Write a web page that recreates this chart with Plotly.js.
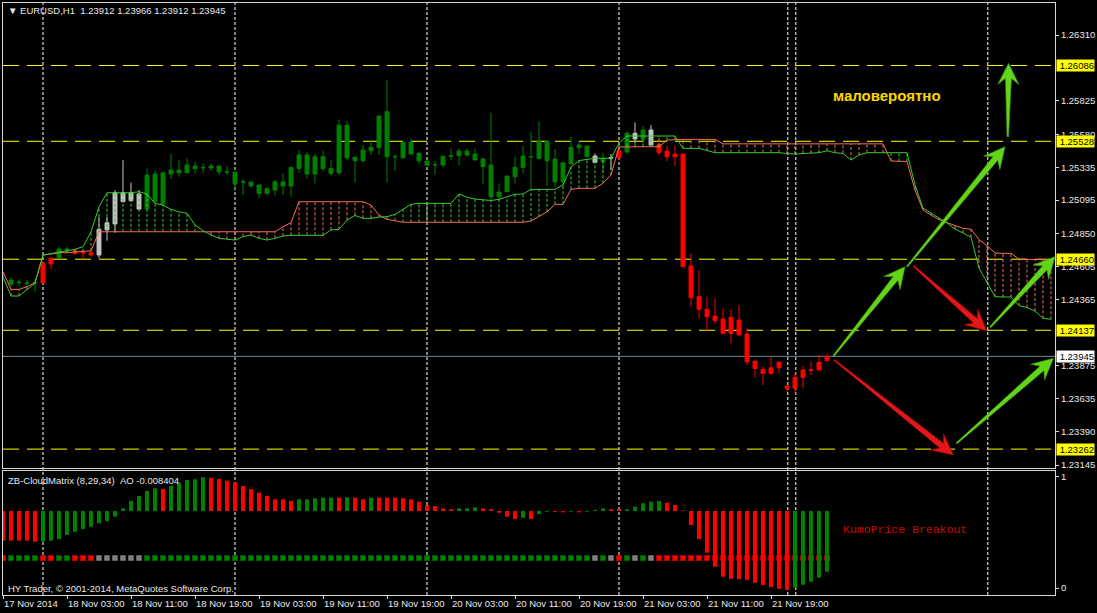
<!DOCTYPE html>
<html><head><meta charset="utf-8">
<script src="https://cdn.plot.ly/plotly-3.0.1.min.js"></script>
<style>html,body{margin:0;padding:0;background:#000;overflow:hidden}#chart{width:1097px;height:613px}</style>
</head><body><div id="chart"></div>
<script>
// ---------------- DATA ----------------
const SYMBOL = 'EURUSD,H1';
// candles: bar 0 = 17 Nov 20:00, one bar per hour
const candleOpen = [1.24477,1.24487,1.24483,1.24485,1.24487,1.24625,1.24671,1.24723,1.24723,1.24706,1.24708,1.24691,1.24875,1.24919,1.25149,1.25091,1.25140,1.25029,1.25287,1.25066,1.25287,1.25296,1.25296,1.25326,1.25332,1.25331,1.25346,1.25302,1.25301,1.25227,1.25228,1.25206,1.25145,1.25169,1.25228,1.25199,1.25328,1.25427,1.25287,1.25414,1.25328,1.25296,1.25647,1.25412,1.25385,1.25459,1.25481,1.25746,1.25413,1.25406,1.25520,1.25439,1.25383,1.25354,1.25353,1.25418,1.25422,1.25456,1.25434,1.25397,1.25353,1.25120,1.25157,1.25267,1.25336,1.25413,1.25402,1.25530,1.25397,1.25230,1.25361,1.25481,1.25493,1.25419,1.25378,1.25405,1.25406,1.25449,1.25587,1.25545,1.25611,1.25505,1.25456,1.25434,1.25434,1.24610,1.24384,1.24291,1.24241,1.24219,1.24114,1.24212,1.24109,1.23910,1.23849,1.23820,1.23861,1.23727,1.23710,1.23790,1.23843,1.23844,1.23912];
const candleHigh = [1.24527,1.24512,1.24507,1.24512,1.24634,1.24672,1.24752,1.24752,1.24735,1.24728,1.24728,1.24972,1.24972,1.25169,1.25390,1.25223,1.25169,1.25328,1.25311,1.25298,1.25434,1.25390,1.25402,1.25378,1.25365,1.25365,1.25346,1.25346,1.25301,1.25250,1.25228,1.25206,1.25189,1.25243,1.25292,1.25336,1.25464,1.25451,1.25434,1.25459,1.25390,1.25689,1.25677,1.25412,1.25500,1.25542,1.25714,1.25979,1.25432,1.25520,1.25550,1.25449,1.25383,1.25383,1.25419,1.25476,1.25476,1.25476,1.25476,1.25410,1.25738,1.25218,1.25272,1.25414,1.25493,1.25600,1.25672,1.25530,1.25471,1.25370,1.25562,1.25525,1.25493,1.25439,1.25444,1.25434,1.25484,1.25600,1.25667,1.25640,1.25647,1.25556,1.25497,1.25500,1.25434,1.24704,1.24580,1.24384,1.24372,1.24298,1.24291,1.24323,1.24151,1.23910,1.23874,1.23939,1.23910,1.23734,1.23832,1.23874,1.23905,1.23957,1.23966];
const candleLow = [1.24458,1.24463,1.24458,1.24420,1.24483,1.24588,1.24668,1.24704,1.24691,1.24662,1.24678,1.24667,1.24796,1.24855,1.25080,1.25083,1.25026,1.25026,1.25080,1.25064,1.25250,1.25267,1.25292,1.25292,1.25292,1.25311,1.25279,1.25279,1.25164,1.25132,1.25189,1.25108,1.25132,1.25127,1.25132,1.25120,1.25296,1.25255,1.25218,1.25304,1.25276,1.25279,1.25390,1.25223,1.25370,1.25427,1.25427,1.25223,1.25311,1.25397,1.25434,1.25361,1.25351,1.25279,1.25336,1.25390,1.25353,1.25414,1.25390,1.25213,1.25096,1.25096,1.25157,1.25218,1.25292,1.25169,1.25395,1.25201,1.25193,1.25193,1.25361,1.25434,1.25410,1.25366,1.25304,1.25316,1.25390,1.25439,1.25513,1.25513,1.25500,1.25427,1.25383,1.25346,1.24600,1.24311,1.24225,1.24134,1.24188,1.24107,1.24041,1.24100,1.23881,1.23788,1.23734,1.23808,1.23820,1.23682,1.23673,1.23710,1.23808,1.23844,1.23912];
const candleClose = [1.24507,1.24490,1.24485,1.24488,1.24630,1.24667,1.24735,1.24735,1.24704,1.24708,1.24691,1.24880,1.24928,1.25149,1.25083,1.25149,1.25029,1.25279,1.25083,1.25296,1.25316,1.25316,1.25353,1.25346,1.25334,1.25346,1.25304,1.25300,1.25218,1.25229,1.25199,1.25145,1.25179,1.25230,1.25199,1.25336,1.25427,1.25287,1.25414,1.25328,1.25292,1.25647,1.25406,1.25385,1.25464,1.25484,1.25714,1.25414,1.25415,1.25520,1.25434,1.25385,1.25351,1.25356,1.25419,1.25420,1.25456,1.25427,1.25390,1.25341,1.25120,1.25154,1.25272,1.25336,1.25419,1.25416,1.25530,1.25385,1.25230,1.25370,1.25484,1.25500,1.25414,1.25373,1.25402,1.25407,1.25456,1.25587,1.25545,1.25611,1.25500,1.25445,1.25414,1.25414,1.24605,1.24377,1.24291,1.24236,1.24207,1.24114,1.24232,1.24102,1.23905,1.23856,1.23820,1.23861,1.23901,1.23710,1.23790,1.23844,1.23846,1.23901,1.23945];

// ZB-CloudMatrix state per bar, from bar -1 (g = bull, r = bear, n = neutral)
const SIGNAL_FIRST_BAR = -1;
const signalState = ('r gggg rr gg rrr nnnnnn gggggggg gggggggg gggggggg gggggggg gggggggg gggggggg gggggggg ngnrgngn rrrrrrrrrr rrrrrrrrrr rr').replace(/ /g,'').split('');
// AO histogram, from bar -1
const aoValues = [-0.00411,-0.00411,-0.00411,-0.00411,-0.00425,
 -0.00425,-0.00411,-0.00388,-0.00332,-0.00287,-0.00249,-0.00217,-0.00170,-0.00139,-0.00079,
 0.00037,0.00139,0.00208,0.00277,0.00314,0.00305,0.00346,0.00392,0.00429,0.00439,
 0.00467,0.00461,0.00443,0.00420,0.00397,0.00346,0.00301,0.00253,0.00208,0.00162,
 0.00162,0.00139,0.00162,0.00162,0.00176,0.00184,0.00184,0.00184,0.00190,0.00184,
 0.00162,0.00184,0.00184,0.00184,0.00184,0.00176,0.00162,0.00129,0.00083,0.00069,
 0.00037,0.00024,0.00037,0.00037,0.00051,0.00037,0.00024,-0.00024,-0.00079,-0.00111,
 -0.00093,-0.00111,-0.00042,-0.00010,-0.00014,-0.00018,-0.00010,-0.00018,-0.00010,0.00014,
 0.00037,0.00024,0.00024,0.00024,0.00060,0.00107,0.00129,0.00139,0.00115,0.00083,
 0.00007,-0.00194,-0.00388,-0.00578,-0.00771,-0.00910,-0.00938,-0.00942,-0.00956,-0.00993,
 -0.01025,-0.01053,-0.01076,-0.01090,-0.01062,-0.01021,-0.00979,-0.00924,-0.008404];
const aoState = ('rrrrr ggggggggggggggg r ggggg rrrrrrrrrrr ggggg r g rr g rrrrrrrrrr ggg rrrrr g r gg rr g r ggg rr ggggg rrrrrrrrrrrrrrrr ggggg').replace(/ /g,'').split('');

// Ichimoku cloud spans, from bar -1 to bar 130
const CLOUD_FIRST_BAR = -1;
const cloudRed = [1.24568,1.24438,1.24438,1.24458,1.24487,1.24691,1.24698,1.24708,1.24708,1.24711,1.24715,1.24722,
 1.24862,1.24862,1.24862,1.24862,1.24862,1.24862,1.24862,1.24862,1.24862,1.24862,1.24862,1.24862,1.24862,1.24862,1.24862,1.24862,1.24862,1.24862,1.24862,1.24862,1.24862,1.24862,1.24862,
 1.24899,1.24929,
 1.25083,1.25083,1.25083,1.25083,1.25083,1.25083,1.25083,1.25083,1.25083,
 1.25059,1.24985,1.24954,1.24943,
 1.24932,1.24932,1.24932,1.24932,1.24932,1.24932,1.24932,1.24932,1.24932,1.24932,1.24932,1.24932,1.24932,1.24932,1.24932,1.24932,
 1.24941,1.24973,1.25009,1.25064,1.25064,
 1.25174,1.25182,1.25182,1.25182,1.25219,1.25280,
 1.25486,
 1.25488,1.25488,1.25488,1.25488,1.25488,
 1.25537,
 1.25542,1.25542,1.25542,1.25542,1.25542,1.25542,
 1.25509,1.25509,1.25509,1.25509,1.25509,1.25509,1.25509,1.25509,1.25509,1.25509,1.25509,1.25509,1.25509,1.25509,1.25509,1.25509,1.25509,1.25509,1.25509,1.25509,1.25509,
 1.25383,1.25379,1.25379,1.25169,1.25022,1.24985,1.24951,1.24929,1.24910,1.24887,1.24881,1.24805,1.24759,1.24706,1.24703,1.24703,1.24661,1.24658,1.24656,1.24654,1.24654];
const cloudGreen = [1.24531,1.24389,1.24389,1.24433,1.24483,1.24691,1.24703,1.24715,1.24722,1.24733,1.24752,1.24862,
 1.25046,1.25149,1.25149,1.25149,1.25149,1.25157,
 1.25140,1.25071,1.25059,1.25027,1.25009,1.24998,
 1.24912,1.24870,1.24838,1.24814,1.24806,1.24801,
 1.24826,1.24838,1.24814,1.24801,1.24814,1.24831,
 1.24836,1.24836,1.24836,1.24836,1.24836,
 1.24875,1.24880,1.24948,1.24982,1.24961,1.24961,1.24970,1.24973,1.24990,1.25029,1.25064,
 1.25071,1.25071,1.25071,1.25071,1.25071,
 1.25140,1.25116,1.25103,1.25096,1.25092,1.25101,1.25121,1.25138,1.25140,
 1.25174,1.25174,1.25174,1.25174,1.25206,
 1.25338,1.25386,1.25397,1.25403,1.25403,1.25403,
 1.25515,
 1.25567,1.25567,1.25567,1.25567,1.25567,1.25567,1.25567,
 1.25476,1.25476,1.25476,1.25460,
 1.25444,1.25444,1.25444,1.25444,1.25444,1.25444,1.25444,1.25444,1.25444,
 1.25438,1.25434,1.25438,1.25442,1.25444,1.25458,1.25444,1.25439,1.25390,1.25427,1.25444,1.25444,1.25444,1.25439,1.25442,1.25444,
 1.25206,1.25037,1.25000,1.24963,1.24926,1.24882,1.24853,1.24823,1.24595,1.24485,1.24384,1.24382,1.24382,1.24318,1.24304,1.24279,1.24225,1.24218];

// horizontal levels, bid, vertical markers
const levels = [1.26086, 1.25528, 1.24660, 1.24137, 1.23262];
const bidPrice = 1.23945;
const verticalBars = [4, 28, 52, 76, 97.1, 98.1, 122.1];

// price axis ticks and time axis ticks
const priceTicks = [1.26310,1.25825,1.25580,1.25335,1.25095,1.24850,1.24605,1.24365,1.23875,1.23635,1.23390,1.23145];
const timeTickBars = [-1,7,15,23,31,39,47,55,63,71,79,87,95];
const timeTickLabels = ['17 Nov 2014','18 Nov 03:00','18 Nov 11:00','18 Nov 19:00','19 Nov 03:00','19 Nov 11:00','19 Nov 19:00','20 Nov 03:00','20 Nov 11:00','20 Nov 19:00','21 Nov 03:00','21 Nov 11:00','21 Nov 19:00'];

// drawn arrows (bar, price)
const arrowTailBar   = [102.8, 112.0, 124.6, 112.8, 122.4, 102.9, 118.2];
const arrowTailPrice = [1.23947,1.24605,1.25562,1.24610,1.24159,1.23918,1.23305];
const arrowHeadBar   = [111.75,124.25,124.7, 121.96,130.5, 117.8, 130.3];
const arrowHeadPrice = [1.24605,1.25488,1.26102,1.24134,1.24678,1.23219,1.23930];
const arrowKind      = ['up','up','up','down','up','down','up'];

// ---------------- LAYOUT CONSTANTS ----------------
const W = 1097, H = 613;
const PL = 3, PR = 1055, PT = 3, PB = 468, LT = 471, LB = 595;
const X_RANGE = [-1, 130.5];
const Y_RANGE = [1.23123, 1.26546];
const IND_RANGE = [-0.063, 1.054];
const AO_RANGE = [-0.01163, 0.005538];
const SIGNAL_ROW = 0.27;
const FRAME = '#D8D8D8';
const TXT = '#E8E8E8';
const FONT = 'Liberation Sans, Arial, sans-serif';
const C_GREEN = '#008000', C_RED = '#FF0000', C_GRAY_C = '#C4C4C4', C_GRAY_S = '#808080';
const LINE_RED = '#F76D57', LINE_GREEN = '#32CD32';

const candleBars = candleOpen.map((_, k) => k);
const signalBars = signalState.map((_, k) => k + SIGNAL_FIRST_BAR);
const cloudBars = cloudRed.map((_, k) => k + CLOUD_FIRST_BAR);

const traces = [];
// cloud hatch
const hatch = {r:{x:[],y:[]}, g:{x:[],y:[]}};
cloudBars.forEach((b, k) => {
  const r = cloudRed[k], g = cloudGreen[k];
  const h = r > g ? hatch.r : hatch.g;
  h.x.push(b, b, null); h.y.push(Math.min(r, g), Math.max(r, g), null);
});
[['r', LINE_RED], ['g', LINE_GREEN]].forEach(([k, c]) => {
  traces.push({type:'scatter', mode:'lines', x:hatch[k].x, y:hatch[k].y, xaxis:'x', yaxis:'y',
    line:{color:c, width:1, dash:'3px,2px'}, hoverinfo:'skip', connectgaps:false});
});
traces.push({type:'scatter', mode:'lines', x:cloudBars, y:cloudRed, line:{color:LINE_RED, width:1}, hoverinfo:'skip'});
traces.push({type:'scatter', mode:'lines', x:cloudBars, y:cloudGreen, line:{color:LINE_GREEN, width:1}, hoverinfo:'skip'});

// candles coloured by signal state
const candleColor = {g:C_GREEN, r:C_RED, n:C_GRAY_C};
['g','r','n'].forEach(s => {
  const idx = candleBars.filter(k => signalState[k - SIGNAL_FIRST_BAR] === s);
  const c = candleColor[s];
  traces.push({type:'candlestick', x:idx, open:idx.map(k=>candleOpen[k]), high:idx.map(k=>candleHigh[k]),
    low:idx.map(k=>candleLow[k]), close:idx.map(k=>candleClose[k]), xaxis:'x', yaxis:'y',
    increasing:{line:{color:c, width:1}, fillcolor:c}, decreasing:{line:{color:c, width:1}, fillcolor:c},
    whiskerwidth:0, hoverinfo:'skip', showlegend:false});
});

// indicator panel
traces.push({type:'bar', x:signalBars, y:aoValues, xaxis:'x2', yaxis:'y3', width:0.5,
  marker:{color:aoState.map(s => s === 'g' ? C_GREEN : C_RED), line:{width:0}}, hoverinfo:'skip'});
const squareColor = {g:C_GREEN, r:C_RED, n:C_GRAY_S};
traces.push({type:'scatter', mode:'markers', x:signalBars, y:signalBars.map(() => SIGNAL_ROW), xaxis:'x2', yaxis:'y2',
  marker:{symbol:'square', size:5.5, color:signalState.map(s => squareColor[s]), line:{width:0}}, hoverinfo:'skip'});

// ---------------- SHAPES ----------------
const shapes = [];
verticalBars.forEach(b => shapes.push({type:'line', xref:'x', yref:'paper', x0:b, x1:b, y0:1-LB/H, y1:1-PT/H,
  line:{color:'#FFFFFF', width:1, dash:'3px,2px'}, layer:'below'}));
levels.forEach(p => shapes.push({type:'line', xref:'paper', yref:'y', x0:PL/W, x1:PR/W, y0:p, y1:p,
  line:{color:'#FFFF00', width:1, dash:'16px,8px'}, layer:'below'}));
shapes.push({type:'line', xref:'paper', yref:'y', x0:PL/W, x1:PR/W, y0:bidPrice, y1:bidPrice,
  line:{color:'#778899', width:1}, layer:'below'});

const xpx = b => PL + (b - X_RANGE[0]) / (X_RANGE[1] - X_RANGE[0]) * (PR - PL);
const ypx = p => PT + (Y_RANGE[1] - p) / (Y_RANGE[1] - Y_RANGE[0]) * (PB - PT);
function arrowPath(t, h) {
  const headLen = 21, headHalf = 10.5, neckHalf = 3, tailHalf = 0.7;
  const dx = h[0]-t[0], dy = h[1]-t[1], L = Math.hypot(dx, dy);
  const ux = dx/L, uy = dy/L, nx = -uy, ny = ux;
  const pts = [
    [t[0]+nx*tailHalf, t[1]+ny*tailHalf],
    [h[0]-ux*headLen*0.72+nx*neckHalf, h[1]-uy*headLen*0.72+ny*neckHalf],
    [h[0]-ux*headLen+nx*headHalf, h[1]-uy*headLen+ny*headHalf],
    [h[0], h[1]],
    [h[0]-ux*headLen-nx*headHalf, h[1]-uy*headLen-ny*headHalf],
    [h[0]-ux*headLen*0.72-nx*neckHalf, h[1]-uy*headLen*0.72-ny*neckHalf],
    [t[0]-nx*tailHalf, t[1]-ny*tailHalf]
  ];
  return 'M' + pts.map(p => (p[0]/W).toFixed(6) + ',' + (1 - p[1]/H).toFixed(6)).join('L') + 'Z';
}
arrowKind.forEach((k, j) => {
  const t = [xpx(arrowTailBar[j]), ypx(arrowTailPrice[j])];
  const h = [xpx(arrowHeadBar[j]), ypx(arrowHeadPrice[j])];
  const up = k === 'up';
  shapes.push({type:'path', xref:'paper', yref:'paper', path:arrowPath(t, h), layer:'above',
    fillcolor: up ? '#62D41A' : '#E01818', line:{color: up ? '#3E9E10' : '#A80000', width:0.6}});
});

// ---------------- ANNOTATIONS ----------------
const fmt = v => v.toFixed(5);
const last = candleOpen.length - 1;
const annotations = [];
annotations.push({xref:'paper', yref:'paper', x:6/W, y:1-11/H, xanchor:'left', yanchor:'middle', showarrow:false,
  text:'\u25BC ' + SYMBOL + '\u00a0\u00a0' + [candleOpen[last], candleHigh[last], candleLow[last], candleClose[last]].map(fmt).join(' '),
  font:{family:FONT, size:9.5, color:TXT}});
annotations.push({xref:'paper', yref:'paper', x:6/W, y:1-480/H, xanchor:'left', yanchor:'middle', showarrow:false,
  text:'ZB-CloudMatrix (8,29,34)\u00a0\u00a0AO ' + aoValues[aoValues.length-1].toFixed(6),
  font:{family:FONT, size:9.5, color:TXT}});
annotations.push({xref:'paper', yref:'paper', x:6/W, y:1-588/H, xanchor:'left', yanchor:'middle', showarrow:false,
  text:'HY Trader, \u00a9 2001-2014, MetaQuotes Software Corp.', font:{family:FONT, size:9.5, color:TXT}});
annotations.push({xref:'paper', yref:'paper', x:831/W, y:1-96/H, xanchor:'left', yanchor:'middle', showarrow:false,
  text:'<b>маловероятно</b>', font:{family:FONT, size:15, color:'#FFD700'}});
annotations.push({xref:'paper', yref:'paper', x:841/W, y:1-529/H, xanchor:'left', yanchor:'middle', showarrow:false,
  text:'KumoPrice Breakout', font:{family:'Liberation Mono, Courier New, monospace', size:11.5, color:'#D40000'}});
levels.concat([bidPrice]).forEach((p, j) => annotations.push({xref:'paper', yref:'y', x:1056/W, y:p, xanchor:'left', yanchor:'middle',
  showarrow:false, text:fmt(p), bgcolor: j < levels.length ? '#FFFF00' : '#FFFFFF', width:37, height:11, align:'right', borderpad:0,
  font:{family:FONT, size:9.5, color:'#000000'}}));

const axBase = {showgrid:false, zeroline:false, showline:true, mirror:true, linecolor:FRAME, linewidth:1, tickcolor:FRAME};
const layout = {
  width:W, height:H, margin:{l:0, r:0, t:0, b:0}, autosize:false,
  paper_bgcolor:'#000000', plot_bgcolor:'rgba(0,0,0,0)', showlegend:false,
  font:{family:FONT, size:9.5, color:TXT},
  xaxis:Object.assign({}, axBase, {domain:[PL/W, PR/W], range:X_RANGE, anchor:'y', showticklabels:false, ticks:'',
    rangeslider:{visible:false}}),
  yaxis:Object.assign({}, axBase, {domain:[1-PB/H, 1-PT/H], range:Y_RANGE, anchor:'x', side:'right', ticks:'outside', ticklen:3,
    tickvals:priceTicks, ticktext:priceTicks.map(fmt), tickfont:{family:FONT, size:9.5, color:TXT}}),
  xaxis2:Object.assign({}, axBase, {domain:[PL/W, PR/W], range:X_RANGE, anchor:'y2', ticks:'outside', ticklen:3, tickangle:0,
    tickvals:timeTickBars, ticktext:timeTickLabels, ticklabelposition:'outside right', tickfont:{family:FONT, size:9.5, color:TXT},
    rangeslider:{visible:false}}),
  yaxis2:Object.assign({}, axBase, {domain:[1-LB/H, 1-LT/H], range:IND_RANGE, anchor:'x2', side:'right', ticks:'outside', ticklen:3,
    tickvals:[0, 1], ticktext:['0', '1'], tickfont:{family:FONT, size:9.5, color:TXT}}),
  yaxis3:{overlaying:'y2', anchor:'x2', range:AO_RANGE, visible:false, showgrid:false, zeroline:false},
  shapes:shapes, annotations:annotations
};
Plotly.newPlot('chart', traces, layout, {staticPlot:true, displayModeBar:false});
</script>
</body></html>
